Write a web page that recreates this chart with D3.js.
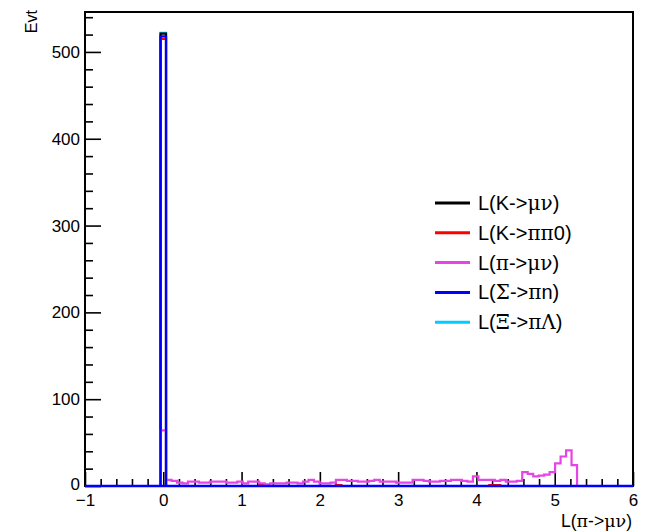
<!DOCTYPE html>
<html>
<head>
<meta charset="utf-8">
<script src="https://cdn.jsdelivr.net/npm/d3@7"></script>
<style>
  html, body { margin: 0; padding: 0; background: #fff; }
  svg { display: block; }
  text { font-family: "Liberation Sans", Arial, Helvetica, sans-serif; fill: #000; }
</style>
</head>
<body>
<svg id="chart" width="653" height="532"></svg>
<script>
// ---------------- data ----------------
const binStart = -1.015;
const binWidth = 0.07;
const nBins = 100;
const xDomain = [-1, 6];
const yDomain = [0, 546];

const xMajorTicks = [-1, 0, 1, 2, 3, 4, 5, 6];
const xTickLabels = ["\u22121", "0", "1", "2", "3", "4", "5", "6"];
const yMajorTicks = [0, 100, 200, 300, 400, 500];
const yTickLabels = ["0", "100", "200", "300", "400", "500"];

// counts per bin index (bin 14 is centred on 0)
const piMuNuStartBin = 14;
const piMuNuCounts = [
  64, 7, 6, 4, 3, 5, 5, 4, 4, 5, 5, 5, 4, 4, 5, 3, 5, 5, 3, 2,
  3, 3, 3, 4, 4, 3, 5, 7, 5, 3, 3, 4, 7, 7, 6, 6, 5, 5, 6, 7,
  5, 5, 5, 4, 4, 4, 7, 7, 6, 5, 5, 6, 6, 7, 7, 6, 5, 11, 7, 7,
  7, 6, 7, 5, 5, 6, 16, 14, 11, 12, 13, 16, 26, 34, 41, 24
];
// sparse series: [bin index, count]
const kMuNuBins  = [[14, 521]];
const kPiPi0Bins = [[14, 515], [32, 1], [46, 1], [74, 1], [75, 1]];
const sigmaBins  = [[14, 518]];
const xiBins     = [[14, 522]];

const seriesNames = ["L(K->\u03bc\u03bd)", "L(K->\u03c0\u03c00)", "L(\u03c0->\u03bc\u03bd)", "L(\u03a3->\u03c0n)", "L(\u039e->\u03c0\u039b)"];
const seriesColors = ["#000000", "#ff0000", "#e645e6", "#0000ff", "#00ccff"];

const xTitle = "L(\u03c0->\u03bc\u03bd)";
const yTitle = "Evt";

// ---------------- helpers ----------------
function fromSparse(list) {
  const arr = new Array(nBins).fill(0);
  list.forEach(([i, c]) => { arr[i] = c; });
  return arr;
}
function fromDense(start, counts) {
  const arr = new Array(nBins).fill(0);
  counts.forEach((c, k) => { arr[start + k] = c; });
  return arr;
}
const hists = [
  fromSparse(kMuNuBins),
  fromSparse(kPiPi0Bins),
  fromDense(piMuNuStartBin, piMuNuCounts),
  fromSparse(sigmaBins),
  fromSparse(xiBins)
];

function richText(sel, str, greekFont) {
  const runs = str.match(/[\u0370-\u03ff]+|[^\u0370-\u03ff]+/g);
  runs.forEach(r => {
    const greek = /[\u0370-\u03ff]/.test(r);
    sel.append("tspan").text(r)
      .attr("font-family", greek ? greekFont : "Liberation Sans, Arial, sans-serif");
  });
}

// ---------------- layout ----------------
const svg = d3.select("#chart");
const L = 85, R = 633, T = 12, B = 486;
const x = d3.scaleLinear().domain(xDomain).range([L, R]);
const y = d3.scaleLinear().domain(yDomain).range([B, T]);

svg.append("rect").attr("width", 653).attr("height", 532).attr("fill", "#fff");

svg.append("defs").append("clipPath").attr("id", "clip")
  .append("rect").attr("x", L).attr("y", T - 2).attr("width", R - L).attr("height", B - T + 4);

const xMinor = d3.range(-1, 6.0001, 0.2).map(v => +v.toFixed(2)).filter(v => Math.abs(v - Math.round(v)) > 1e-6);
const yMinor = d3.range(0, 546, 20).filter(v => v % 100 !== 0);

const gx = svg.append("g").attr("transform", `translate(0,${B})`);
gx.call(d3.axisBottom(x).tickValues(xMajorTicks).tickSize(-14).tickSizeOuter(0)
    .tickFormat((d, i) => xTickLabels[i]).tickPadding(8));
gx.select(".domain").remove();
gx.selectAll(".tick line").attr("stroke", "#000").attr("stroke-width", 1.6);
gx.selectAll(".tick text").attr("font-size", 17).attr("font-family", "Liberation Sans, Arial, sans-serif");
const gx2 = svg.append("g").attr("transform", `translate(0,${B})`);
gx2.call(d3.axisBottom(x).tickValues(xMinor).tickSize(-7).tickSizeOuter(0).tickFormat(""));
gx2.select(".domain").remove();
gx2.selectAll(".tick line").attr("stroke", "#000").attr("stroke-width", 1.6);

const gy = svg.append("g").attr("transform", `translate(${L},0)`);
gy.call(d3.axisLeft(y).tickValues(yMajorTicks).tickSize(-16).tickSizeOuter(0)
    .tickFormat((d, i) => yTickLabels[i]).tickPadding(5));
gy.select(".domain").remove();
gy.selectAll(".tick line").attr("stroke", "#000").attr("stroke-width", 1.6);
gy.selectAll(".tick text").attr("font-size", 17).attr("font-family", "Liberation Sans, Arial, sans-serif");
// lift the bottom "0" label slightly, as in the reference
gy.selectAll(".tick").filter(d => d === 0).select("text").attr("dy", "0.2em");
const gy2 = svg.append("g").attr("transform", `translate(${L},0)`);
gy2.call(d3.axisLeft(y).tickValues(yMinor).tickSize(-8).tickSizeOuter(0).tickFormat(""));
gy2.select(".domain").remove();
gy2.selectAll(".tick line").attr("stroke", "#000").attr("stroke-width", 1.6);

// histograms
function histPoints(counts) {
  const pts = counts.map((c, i) => [binStart + i * binWidth, c]);
  pts.push([binStart + nBins * binWidth, counts[nBins - 1]]);
  return pts;
}
const line = d3.line().x(d => x(d[0])).y(d => y(d[1])).curve(d3.curveStepAfter);
const drawOrder = [4, 0, 1, 2, 3];
const gh = svg.append("g").attr("clip-path", "url(#clip)");
drawOrder.forEach(si => {
  gh.append("path")
    .attr("d", line(histPoints(hists[si])))
    .attr("fill", "none")
    .attr("stroke", seriesColors[si])
    .attr("stroke-width", 2.2);
});

// frame
svg.append("rect").attr("x", L).attr("y", T).attr("width", R - L).attr("height", B - T)
  .attr("fill", "none").attr("stroke", "#000").attr("stroke-width", 2);
svg.append("line").attr("x1", x(binStart)).attr("x2", R).attr("y1", y(0)).attr("y2", y(0))
  .attr("stroke", seriesColors[3]).attr("stroke-width", 2.6)
  .attr("clip-path", "url(#clip)");

// legend
const legY0 = 203, legDy = 29.8;
const leg = svg.append("g");
seriesNames.forEach((name, i) => {
  const yy = legY0 + i * legDy;
  leg.append("line").attr("x1", 435).attr("x2", 470).attr("y1", yy).attr("y2", yy)
    .attr("stroke", seriesColors[i]).attr("stroke-width", 3);
  const t = leg.append("text").attr("x", 478).attr("y", yy + 7).attr("font-size", 20);
  richText(t, name, "DejaVu Serif, Liberation Serif, serif");
});

// axis titles
const xt = svg.append("text").attr("x", 632).attr("y", 527).attr("text-anchor", "end").attr("font-size", 17.5);
richText(xt, xTitle, "DejaVu Serif, Liberation Serif, serif");
svg.append("text").attr("transform", "translate(37,10) rotate(-90)")
  .attr("text-anchor", "end").attr("font-size", 16).text(yTitle);
</script>
</body>
</html>
